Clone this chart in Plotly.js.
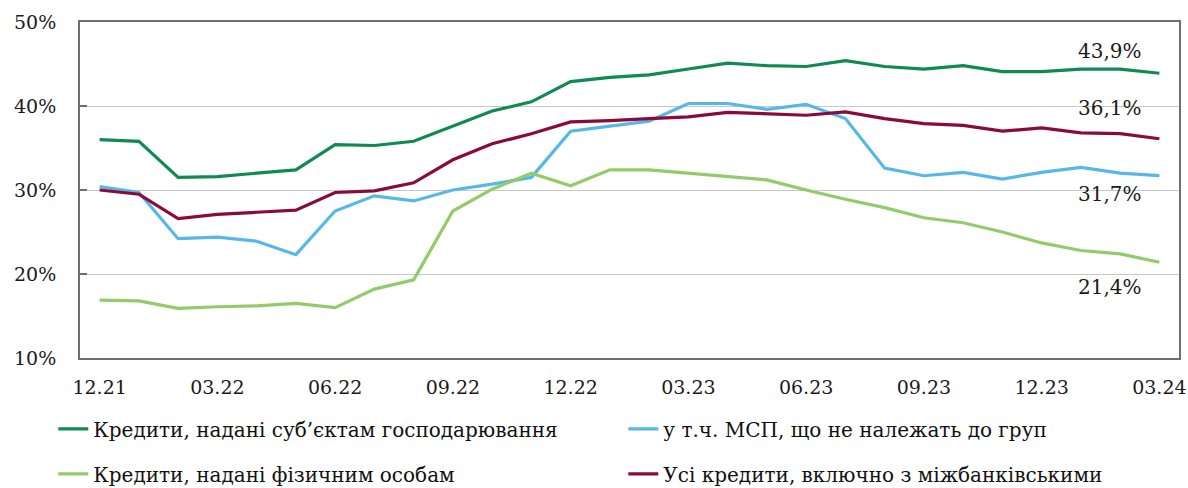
<!DOCTYPE html>
<html>
<head>
<meta charset="utf-8">
<script src="https://cdn.plot.ly/plotly-3.0.1.min.js"></script>
<style>html,body{margin:0;padding:0;background:#fff;}#chart{width:1188px;height:488px;}</style>
</head>
<body>
<div id="chart"></div>
<script>
const months = ["12.21","01.22","02.22","03.22","04.22","05.22","06.22","07.22","08.22","09.22","10.22","11.22",
  "12.22","01.23","02.23","03.23","04.23","05.23","06.23","07.23","08.23","09.23","10.23","11.23","12.23","01.24","02.24","03.24"];
const tickLabels = ["12.21","03.22","06.22","09.22","12.22","03.23","06.23","09.23","12.23","03.24"];

const business = [36.0,35.8,31.5,31.6,32.0,32.4,35.4,35.3,35.8,37.6,39.4,40.5,
  42.9,43.4,43.7,44.4,45.1,44.8,44.7,45.4,44.7,44.4,44.8,44.1,44.1,44.4,44.4,43.9];
const sme = [30.4,29.7,24.2,24.4,23.9,22.3,27.5,29.3,28.7,30.0,30.7,31.5,
  37.0,37.6,38.2,40.3,40.3,39.6,40.2,38.5,32.6,31.7,32.1,31.3,32.1,32.7,32.0,31.7];
const households = [16.9,16.8,15.9,16.1,16.2,16.5,16.0,18.2,19.3,27.5,30.1,32.0,
  30.5,32.4,32.4,32.0,31.6,31.2,30.0,28.9,27.9,26.7,26.1,25.0,23.7,22.8,22.4,21.4];
const allLoans = [30.0,29.5,26.6,27.1,27.35,27.6,29.7,29.9,30.85,33.6,35.5,36.7,
  38.1,38.25,38.5,38.7,39.25,39.05,38.9,39.3,38.5,37.9,37.7,37.0,37.4,36.8,36.7,36.1];

const names = ["Кредити, надані суб’єктам господарювання","у т.ч. МСП, що не належать до груп",
  "Кредити, надані фізичним особам","Усі кредити, включно з міжбанківськими"];
const colors = ["#0f8a52","#55b8e8","#92cc6a","#8a0a3c"];

const idx = months.map((m,i)=>i);
const tickIdx = tickLabels.map(t=>months.indexOf(t));
const boundaryTicks = tickIdx.slice(1).map(i=>i-0.5);

const series = [business, sme, households, allLoans];
const legends = ["legend","legend","legend2","legend2"];
const traces = series.map((s,k)=>({
  x: idx, y: s, type:"scatter", mode:"lines", name:names[k], legend:legends[k],
  line:{color:colors[k], width:3.2}, hoverinfo:"skip"
}));

const serif = "DejaVu Serif";
const fmt = v => v.toFixed(1).replace('.',',') + '%';
const labelY = [46.6, 39.8, 18.5, 29.5];
const labelSeries = [business, allLoans, households, sme];
const annFont = {family:serif, size:20, color:"#1a1a1a"};
const annotations = labelSeries.map((s,k)=>({
  x:25.74, y:labelY[k], xref:"x", yref:"y", text:fmt(s[s.length-1]), showarrow:false, font:annFont
}));

const legFont = {family:serif, size:20, color:"#111"};
const tickFont = {family:serif, size:19, color:"#1a1a1a"};
const layout = {
  width:1188, height:488,
  margin:{l:80, r:9, t:22, b:130, autoexpand:false},
  paper_bgcolor:"#fff", plot_bgcolor:"#fff",
  font:{family:serif, size:19, color:"#1a1a1a"},
  xaxis:{
    range:[-0.5,27.5], tickvals:tickIdx, ticktext:tickLabels, ticks:"",
    showgrid:false, zeroline:false, showline:true, mirror:true, linecolor:"#6e6e6e", linewidth:2,
    ticklabelstandoff:11, tickfont:tickFont
  },
  xaxis2:{
    range:[-0.5,27.5], overlaying:"x", anchor:"y", side:"bottom", tickvals:boundaryTicks,
    ticks:"inside", ticklen:6, tickwidth:2, tickcolor:"#6e6e6e", showticklabels:false,
    showgrid:false, zeroline:false, showline:false
  },
  yaxis:{
    range:[10,50], dtick:10, tick0:10, ticksuffix:"%", ticks:"inside", ticklen:7, tickwidth:2, tickcolor:"#6e6e6e",
    showgrid:true, gridcolor:"#c8c8c8", gridwidth:1, zeroline:false,
    showline:true, mirror:true, linecolor:"#6e6e6e", linewidth:2,
    ticklabelstandoff:18, tickfont:tickFont
  },
  legend:{orientation:"h", x:-0.0243, xanchor:"left", y:-0.211, yanchor:"middle",
    entrywidth:525, entrywidthmode:"pixels", font:legFont,
    bgcolor:"rgba(0,0,0,0)", itemclick:false, itemdoubleclick:false, tracegroupgap:0},
  legend2:{orientation:"h", x:-0.0243, xanchor:"left", y:-0.345, yanchor:"middle",
    entrywidth:525, entrywidthmode:"pixels", font:legFont,
    bgcolor:"rgba(0,0,0,0)", itemclick:false, itemdoubleclick:false, tracegroupgap:0},
  showlegend:true,
  annotations:annotations
};
Plotly.newPlot("chart", traces, layout, {displayModeBar:false, staticPlot:true});
</script>
</body>
</html>
